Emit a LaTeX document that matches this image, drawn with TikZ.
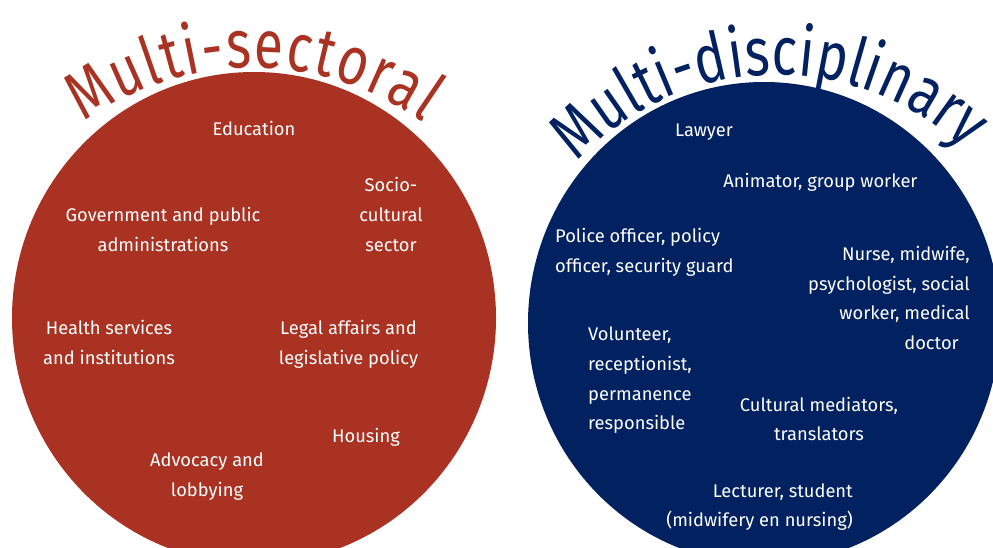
\documentclass[tikz,border=0pt]{standalone}
\usepackage{fontspec}
\setmainfont{Fira Sans}
\newfontfamily\titlefam[FakeStretch=0.78]{Fira Sans}
\usetikzlibrary{decorations.text,shapes.geometric}
\definecolor{redc}{RGB}{169,50,34}
\definecolor{bluec}{RGB}{2,33,96}
\newcommand{\titlefont}{\titlefam\fontsize{68}{68}\selectfont}
\tikzset{
  blob/.style={ellipse, inner sep=0pt, draw=none},
  lbl/.style={text=white, inner sep=0pt, anchor=north,
    font=\fontsize{18.3}{29.7}\selectfont,
    execute at begin node={\rule{0pt}{15pt}}},
  lblc/.style={lbl, align=center},
  lbll/.style={lbl, align=left, anchor=north west},
  lblr/.style={lbl, align=right, anchor=north east},
}
\begin{document}
\begin{tikzpicture}[x=1pt,y=1pt]
\useasboundingbox (0,0) rectangle (993,547);
\fill[white] (0,0) rectangle (993,547);
\clip (0,0) rectangle (993,547);
% circles
\node[blob, fill=redc, minimum width=484pt, minimum height=492pt] (sect) at (254,229) {};
\node[blob, fill=bluec, minimum width=472pt, minimum height=482pt] (disc) at (764,224) {};
% curved titles
\path[decorate, decoration={text along path, text align={fit to path},
  text={|\titlefont\color{redc}|Multi-sectoral}}]
  (253.5,186.4) ++(125.5:292.6) arc[start angle=125.5, end angle=54.5, radius=292.6];
\path[decorate, decoration={text along path, text align={fit to path},
  text={|\titlefont\color{bluec}|Multi-disciplinary}}]
  (777,198.6) ++(137:273.4) arc[start angle=137, end angle=46.5, radius=273.4];
% left labels
\node[lblc] (edu) at (254,427) {Education};
\node[lblc] (gov) at (163,340) {Government and public\\administrations};
\node[lblc] (soc) at (391,369.5) {Socio-\\cultural\\sector};
\node[lblc] (hea) at (109,227) {Health services\\and institutions};
\node[lblc] (leg) at (348.5,227) {Legal affairs and\\legislative policy};
\node[lblc] (hou) at (366,120) {Housing};
\node[lblc] (adv) at (207,94) {Advocacy and\\lobbying};
% right labels
\node[lblc] (law) at (704,426) {Lawyer};
\node[lblc] (ani) at (820.5,375) {Animator, group worker};
\node[lbll] (pol) at (555,318.7) {Police officer, policy\\officer, security guard};
\node[lblr] (nur) at (970,301) {Nurse, midwife,\\psychologist, social\\worker, medical\\doctor\hspace*{11pt}};
\node[lbll] (vol) at (588,220.3) {Volunteer,\\receptionist,\\permanence\\responsible};
\node[lblc] (cul) at (819,150.3) {Cultural mediators,\\translators};
\node[lblr] (lec) at (853,63.7) {Lecturer, student\\(midwifery en nursing)};
\end{tikzpicture}
\end{document}
